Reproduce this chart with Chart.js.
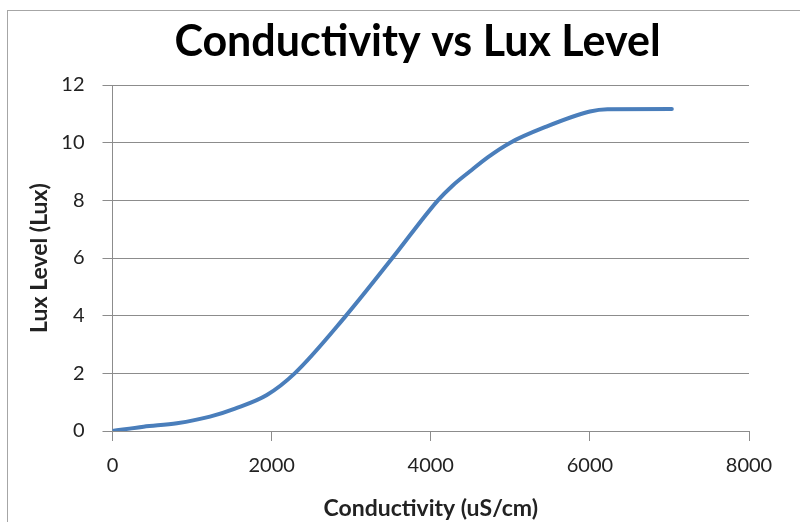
<!DOCTYPE html>
<html>
<head>
<meta charset="utf-8">
<script src="https://cdn.jsdelivr.net/npm/chart.js@4/dist/chart.umd.min.js"></script>
<style>
  html, body { margin: 0; padding: 0; background: #ffffff; }
  #wrap { position: relative; width: 800px; height: 522px; overflow: hidden; }
  #frame { position: absolute; left: 7px; top: 10px; width: 820px; height: 540px; border: 1px solid #a6a6a6; box-sizing: border-box; pointer-events: none; }
  canvas { position: absolute; left: 0; top: 0; }
</style>
</head>
<body>
<div id="wrap">
  <div id="frame"></div>
  <canvas id="c" width="800" height="522"></canvas>
</div>
<script>
// Data
const conductivity = [0, 390, 810, 1225, 1540, 1940, 2290, 2920, 3510, 4090, 4270, 4490, 4720, 5000, 5420, 6000, 6220, 7030];
const luxLevel     = [0, 0.15, 0.27, 0.5, 0.78, 1.25, 2.0, 3.95, 5.97, 8.0, 8.5, 9.0, 9.5, 10.0, 10.52, 11.08, 11.16, 11.17];
const titleText = 'Conductivity vs Lux Level';
const xTitle = 'Conductivity (uS/cm)';
const yTitle = 'Lux Level (Lux)';
const xRange = [0, 8000, 2000];
const yRange = [0, 12, 2];

const points = conductivity.map((x, i) => ({ x: x, y: luxLevel[i] }));
const axisGrey = '#8c8c8c';
const fontFam = 'Lato, "Open Sans", "Liberation Sans", sans-serif';

new Chart(document.getElementById('c'), {
  type: 'line',
  data: {
    datasets: [{
      data: points,
      borderColor: '#4a7ebb',
      borderWidth: 4,
      pointRadius: 0,
      fill: false,
      cubicInterpolationMode: 'monotone',
      borderCapStyle: 'round',
      borderJoinStyle: 'round'
    }]
  },
  options: {
    responsive: false,
    devicePixelRatio: 1,
    animation: false,
    layout: { padding: { left: 35, right: 0, top: 0, bottom: 0 } },
    plugins: {
      legend: { display: false },
      tooltip: { enabled: false },
      title: {
        display: true,
        text: titleText,
        color: '#000000',
        font: { family: fontFam, size: 43, weight: 'bold', lineHeight: 1.2 },
        padding: { top: 16, bottom: 17.4 }
      }
    },
    scales: {
      x: {
        type: 'linear',
        min: xRange[0], max: xRange[1],
        afterFit: s => { s.height = 91; },
        ticks: { stepSize: xRange[2], color: '#222222', padding: 13,
                 font: { family: fontFam, size: 20 }, maxRotation: 0,
                 callback: v => String(v) },
        grid: { drawOnChartArea: false, drawTicks: true, tickLength: 10, color: axisGrey, lineWidth: 1 },
        border: { color: axisGrey, width: 1 },
        title: { display: true, text: xTitle, color: '#222222',
                 font: { family: fontFam, size: 23, weight: 'bold', lineHeight: 1.2 },
                 padding: { top: 0, bottom: 0 } }
      },
      y: {
        type: 'linear',
        min: yRange[0], max: yRange[1],
        afterFit: s => { s.width = 77.5; },
        ticks: { stepSize: yRange[2], color: '#222222', padding: 18,
                 font: { family: fontFam, size: 20 },
                 callback: v => String(v) },
        grid: { drawTicks: true, tickLength: 10, color: axisGrey, lineWidth: 1 },
        border: { color: axisGrey, width: 1 },
        title: { display: true, text: yTitle, color: '#222222',
                 font: { family: fontFam, size: 23, weight: 'bold', lineHeight: 1.2 },
                 padding: { top: -8.8, bottom: 0 } }
      },
      y2: {
        type: 'linear',
        position: 'right',
        display: true,
        afterFit: s => { s.width = 51; },
        ticks: { display: false },
        grid: { display: false, drawTicks: false },
        border: { display: false },
        title: { display: false }
      }
    }
  }
});
</script>
</body>
</html>
